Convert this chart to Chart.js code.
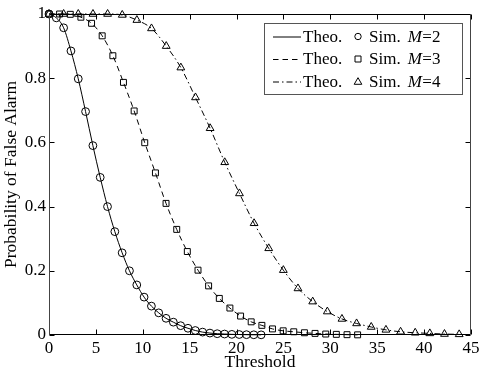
<!DOCTYPE html>
<html><head><meta charset="utf-8">
<script src="https://cdn.jsdelivr.net/npm/chart.js@4.4.1/dist/chart.umd.min.js"></script>
<style>html,body{margin:0;padding:0;background:#fff}canvas{display:block}</style>
</head><body>
<canvas id="c" width="483" height="375"></canvas>
<script>
const m2X = [0, 0.78, 1.56, 2.34, 3.12, 3.9, 4.68, 5.46, 6.24, 7.02, 7.8, 8.58, 9.36, 10.14, 10.92, 11.7, 12.48, 13.26, 14.04, 14.82, 15.6, 16.38, 17.16, 17.94, 18.72, 19.5, 20.28, 21.06, 21.84, 22.62];
const m2Y = [1.0, 0.988, 0.957, 0.885, 0.798, 0.696, 0.590, 0.491, 0.400, 0.322, 0.256, 0.200, 0.156, 0.118, 0.090, 0.069, 0.052, 0.040, 0.029, 0.021, 0.014, 0.009, 0.006, 0.004, 0.003, 0.002, 0.0015, 0.001, 0.0007, 0.0005];
const m3X = [0, 1.13, 2.27, 3.4, 4.54, 5.67, 6.81, 7.94, 9.08, 10.21, 11.35, 12.48, 13.62, 14.75, 15.89, 17.02, 18.16, 19.29, 20.43, 21.56, 22.7, 23.83, 24.97, 26.1, 27.24, 28.37, 29.51, 30.64, 31.78, 32.91];
const m3Y = [1.0, 1.0, 0.999, 0.99, 0.971, 0.932, 0.870, 0.787, 0.698, 0.599, 0.505, 0.410, 0.329, 0.260, 0.202, 0.153, 0.114, 0.084, 0.059, 0.041, 0.030, 0.019, 0.013, 0.010, 0.007, 0.005, 0.003, 0.002, 0.001, 0.0005];
const m4X = [0, 1.56, 3.12, 4.69, 6.25, 7.81, 9.37, 10.93, 12.5, 14.06, 15.62, 17.18, 18.74, 20.31, 21.87, 23.43, 24.99, 26.55, 28.12, 29.68, 31.24, 32.8, 34.36, 35.93, 37.49, 39.05, 40.61, 42.17, 43.74];
const m4Y = [1.0, 1.0, 1.0, 1.0, 1.0, 0.997, 0.981, 0.955, 0.900, 0.833, 0.740, 0.644, 0.538, 0.441, 0.348, 0.270, 0.202, 0.145, 0.104, 0.073, 0.050, 0.036, 0.025, 0.016, 0.010, 0.007, 0.005, 0.003, 0.002];
const xTicks = [0, 5, 10, 15, 20, 25, 30, 35, 40, 45];
const yTicks = [0, 0.2, 0.4, 0.6, 0.8, 1];
const theoLabel = 'Theo.';
const simLabel = 'Sim.';
const mValues = ['2', '3', '4'];
const xTitle = 'Threshold';
const yTitle = 'Probability of False Alarm';

const FONT = '"Liberation Serif", "Times New Roman", serif';
const dashes = [[], [5.5, 4], [6, 3, 1.5, 3]];
const shapes = ['circle', 'rect', 'triangle'];
const radii = [3.9, 4.2, 4.5];
const series = [[m2X, m2Y], [m3X, m3Y], [m4X, m4Y]];

function pts(xs, ys) { return xs.map((x, i) => ({ x: x, y: ys[i] })); }

const datasets = [];
series.forEach((s, k) => {
  datasets.push({
    label: theoLabel + ' M=' + mValues[k],
    data: pts(s[0], s[1]),
    borderColor: '#000', borderWidth: 1, borderDash: dashes[k],
    pointRadius: 0, cubicInterpolationMode: 'monotone', fill: false, clip: false
  });
  datasets.push({
    label: simLabel + ' M=' + mValues[k],
    data: pts(s[0], s[1]),
    showLine: false, pointStyle: shapes[k], pointRadius: radii[k],
    pointBorderColor: '#000', pointBackgroundColor: 'rgba(0,0,0,0)', pointBorderWidth: 1, clip: false
  });
});

const framePlugin = {
  id: 'frame',
  afterDatasetsDraw(chart) {
    const ctx = chart.ctx, a = chart.chartArea, xs = chart.scales.x, ys = chart.scales.y;
    ctx.save();
    ctx.strokeStyle = '#000'; ctx.lineWidth = 1;
    const L = Math.round(a.left) + 0.5, R = Math.round(a.right) - 0.5, T = Math.round(a.top) + 0.5, B = Math.round(a.bottom) - 0.5;
    ctx.beginPath();
    xTicks.forEach(v => {
      const px = Math.round(xs.getPixelForValue(v)) + 0.5;
      ctx.moveTo(px, B); ctx.lineTo(px, B - 5);
      ctx.moveTo(px, T); ctx.lineTo(px, T + 5);
    });
    yTicks.forEach(v => {
      const py = Math.round(ys.getPixelForValue(v)) + 0.5;
      ctx.moveTo(L, py); ctx.lineTo(L + 5, py);
      ctx.moveTo(R, py); ctx.lineTo(R - 5, py);
    });
    ctx.stroke();
    ctx.strokeStyle = '#000';
    ctx.beginPath(); ctx.moveTo(L, T); ctx.lineTo(R, T); ctx.moveTo(L, B); ctx.lineTo(R, B); ctx.stroke();
    ctx.strokeStyle = '#444';
    ctx.beginPath(); ctx.moveTo(L, T); ctx.lineTo(L, B); ctx.moveTo(R, T); ctx.lineTo(R, B); ctx.stroke();
    ctx.restore();
  },
  afterDraw(chart) {
    const ctx = chart.ctx;
    ctx.save();
    const bx = 264.5, by = 23.5, bw = 198, bh = 71;
    ctx.fillStyle = '#fff';
    ctx.fillRect(bx, by, bw, bh);
    ctx.strokeStyle = '#555'; ctx.lineWidth = 1;
    ctx.strokeRect(bx, by, bw, bh);
    const rows = [36.5, 59, 81.5];
    ctx.fillStyle = '#000'; ctx.strokeStyle = '#000';
    ctx.textBaseline = 'middle';
    const fs = 17;
    rows.forEach((ry, k) => {
      ctx.setLineDash(dashes[k]);
      ctx.beginPath(); ctx.moveTo(273, ry + 0.5); ctx.lineTo(301, ry + 0.5); ctx.stroke();
      ctx.setLineDash([]);
      ctx.font = fs + 'px ' + FONT;
      ctx.textAlign = 'left';
      ctx.fillText(theoLabel, 303, ry + 1);
      const mx = 358;
      ctx.beginPath();
      if (k === 0) { ctx.arc(mx, ry, 3.2, 0, Math.PI * 2); }
      else if (k === 1) { ctx.rect(mx - 3, ry - 3, 6, 6); }
      else { ctx.moveTo(mx, ry - 3.8); ctx.lineTo(mx + 3.8, ry + 2.8); ctx.lineTo(mx - 3.8, ry + 2.8); ctx.closePath(); }
      ctx.stroke();
      ctx.fillText(simLabel, 369, ry + 1);
      const sx = 369 + ctx.measureText(simLabel).width + 7;
      ctx.font = 'italic ' + fs + 'px ' + FONT;
      ctx.fillText('M', sx, ry + 1);
      const w = ctx.measureText('M').width;
      ctx.font = fs + 'px ' + FONT;
      ctx.fillText('=' + mValues[k], sx + w + 0.5, ry + 1);
    });
    ctx.restore();
  }
};

new Chart(document.getElementById('c'), {
  type: 'line',
  data: { datasets: datasets },
  options: {
    responsive: false, animation: false, devicePixelRatio: 1,
    layout: { padding: { top: 14, right: 12, left: 0, bottom: 0 } },
    plugins: { legend: { display: false }, tooltip: { enabled: false } },
    scales: {
      x: {
        type: 'linear', min: 0, max: 45,
        afterFit(s) { s.height = 40; },
        afterBuildTicks(s) { s.ticks = xTicks.map(v => ({ value: v })); },
        ticks: { font: { family: FONT, size: 17 }, color: '#000', padding: 3, maxRotation: 0 },
        grid: { display: false, drawTicks: false },
        border: { display: false },
        title: { display: true, text: xTitle, font: { family: FONT, size: 17.5 }, color: '#000', padding: { top: 0, bottom: 2 } }
      },
      y: {
        type: 'linear', min: 0, max: 1,
        afterFit(s) { s.width = 49; },
        afterBuildTicks(s) { s.ticks = yTicks.map(v => ({ value: v })); },
        ticks: { font: { family: FONT, size: 17 }, color: '#000', padding: 3, callback: v => String(v) },
        grid: { display: false, drawTicks: false },
        border: { display: false },
        title: { display: true, text: yTitle, font: { family: FONT, size: 17.5 }, color: '#000', padding: { top: 1, bottom: 0 } }
      }
    }
  },
  plugins: [framePlugin]
});
</script>
</body></html>
